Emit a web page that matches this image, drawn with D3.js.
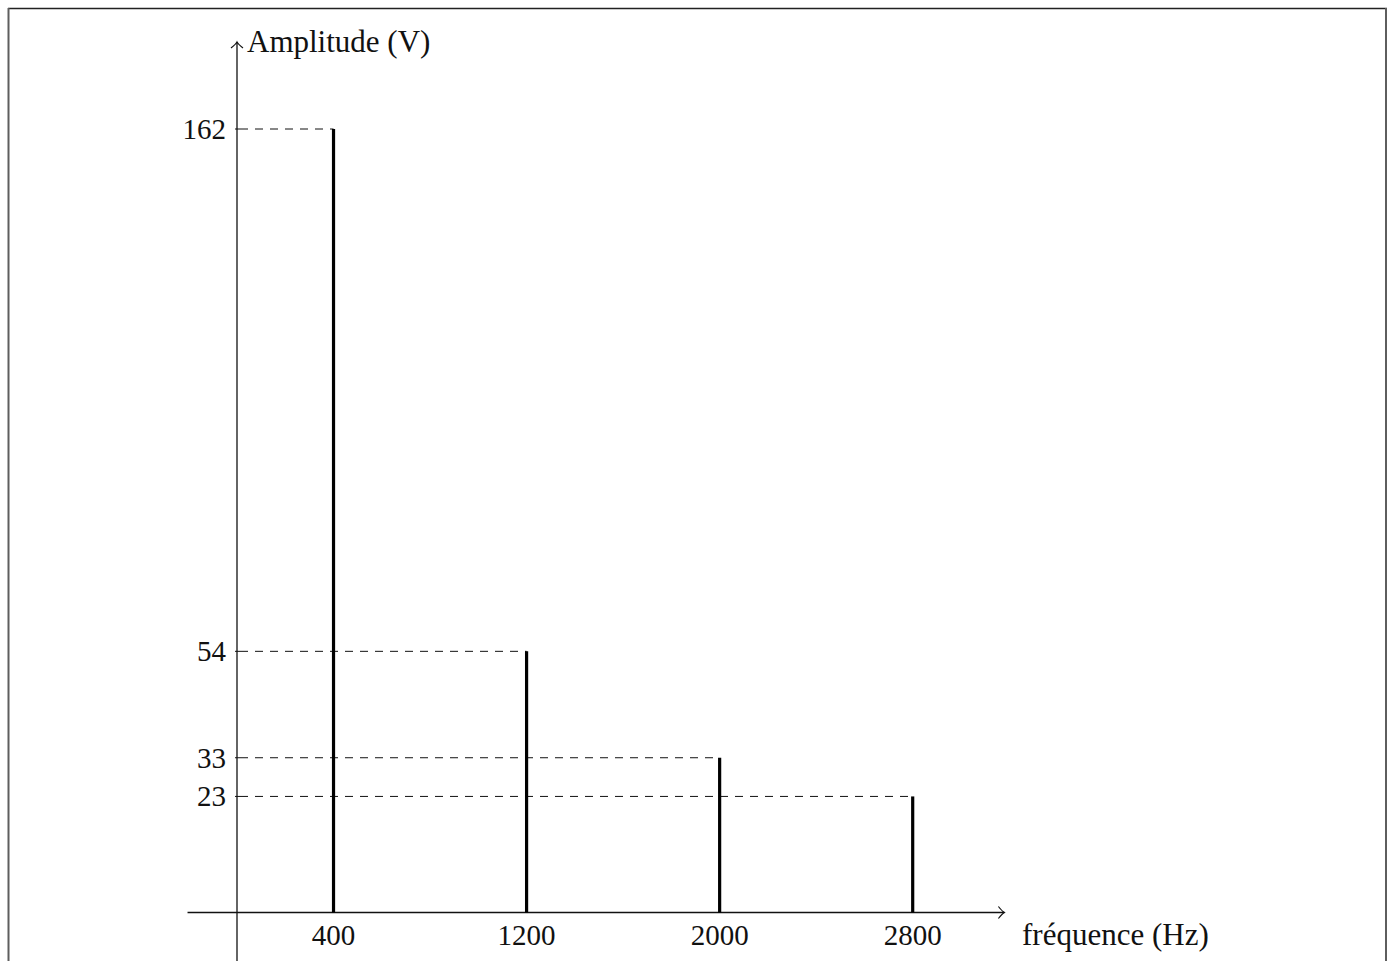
<!DOCTYPE html>
<html>
<head>
<meta charset="utf-8">
<script src="https://cdn.jsdelivr.net/npm/d3@7"></script>
<style>
  html, body { margin: 0; padding: 0; background: #fff; }
  text { font-family: "Liberation Serif", "DejaVu Serif", serif; fill: #111; }
</style>
</head>
<body>
<div id="chart"></div>
<script>
// spectre d'amplitude
const frequencies = [400, 1200, 2000, 2800];
const amplitudes = [162, 54, 32, 24];
const amplitudeLabels = ["162", "54", "33", "23"];
const xLabel = "fréquence (Hz)";
const yLabel = "Amplitude (V)";

const width = 1391, height = 961;

const svg = d3.select("#chart")
  .append("svg")
  .attr("width", width)
  .attr("height", height);

// page frame
svg.append("line").attr("x1", 8).attr("x2", 1387).attr("y1", 8.5).attr("y2", 8.5)
  .attr("stroke", "#222").attr("stroke-width", 1.3);
svg.append("line").attr("x1", 8.5).attr("x2", 8.5).attr("y1", 8).attr("y2", height)
  .attr("stroke", "#5e5e5e").attr("stroke-width", 2);
svg.append("line").attr("x1", 1386).attr("x2", 1386).attr("y1", 8).attr("y2", height)
  .attr("stroke", "#5e5e5e").attr("stroke-width", 2);

// scales
const x = d3.scaleLinear().domain([0, 2800]).range([237, 912.7]);
const y = d3.scaleLinear().domain([0, 162]).range([912.5, 129]);

const x0 = x(0), y0 = y(0);
const xEnd = x(3180), yTop = y(180);

// axes
svg.append("line")
  .attr("x1", x(-205)).attr("x2", xEnd)
  .attr("y1", y0).attr("y2", y0)
  .attr("stroke", "#111").attr("stroke-width", 1.3);
svg.append("line")
  .attr("x1", x0).attr("x2", x0)
  .attr("y1", y(-12)).attr("y2", yTop)
  .attr("stroke", "#111").attr("stroke-width", 1.3);

// arrow heads
svg.append("path")
  .attr("d", `M${xEnd - 6},${y0 - 6} Q${xEnd - 2},${y0 - 1} ${xEnd},${y0} Q${xEnd - 2},${y0 + 1} ${xEnd - 6},${y0 + 6}`)
  .attr("fill", "none").attr("stroke", "#111").attr("stroke-width", 1.2);
svg.append("path")
  .attr("d", `M${x0 - 6},${yTop + 6} Q${x0 - 1},${yTop + 2} ${x0},${yTop} Q${x0 + 1},${yTop + 2} ${x0 + 6},${yTop + 6}`)
  .attr("fill", "none").attr("stroke", "#111").attr("stroke-width", 1.2);

const data = frequencies.map((f, i) => ({ f, a: amplitudes[i], label: amplitudeLabels[i] }));

// dashed guides
svg.selectAll(".guide")
  .data(data)
  .enter()
  .append("line")
  .attr("class", "guide")
  .attr("x1", x0 + 3).attr("x2", d => x(d.f))
  .attr("y1", d => y(d.a)).attr("y2", d => y(d.a))
  .attr("stroke", "#111").attr("stroke-width", 1)
  .attr("stroke-dasharray", "8,7");

// small ticks on the y axis
svg.selectAll(".ytick")
  .data(data)
  .enter()
  .append("line")
  .attr("class", "ytick")
  .attr("x1", x0 - 2).attr("x2", x0 + 3)
  .attr("y1", d => y(d.a)).attr("y2", d => y(d.a))
  .attr("stroke", "#111").attr("stroke-width", 1);

// spectral lines
svg.selectAll(".bar")
  .data(data)
  .enter()
  .append("line")
  .attr("class", "bar")
  .attr("x1", d => x(d.f)).attr("x2", d => x(d.f))
  .attr("y1", y0).attr("y2", d => y(d.a))
  .attr("stroke", "#000").attr("stroke-width", 3.2);

// y labels
svg.selectAll(".ylabel")
  .data(data)
  .enter()
  .append("text")
  .attr("class", "ylabel")
  .attr("x", x0 - 11)
  .attr("y", d => y(d.a))
  .attr("dy", "0.34em")
  .attr("text-anchor", "end")
  .style("font-size", "29px")
  .text(d => d.label);

// x labels
svg.selectAll(".xlabel")
  .data(data)
  .enter()
  .append("text")
  .attr("class", "xlabel")
  .attr("x", d => x(d.f))
  .attr("y", 945)
  .attr("text-anchor", "middle")
  .style("font-size", "29px")
  .text(d => d.f);

// axis titles
svg.append("text")
  .attr("x", 1022).attr("y", 945)
  .style("font-size", "31px")
  .text(xLabel);

svg.append("text")
  .attr("x", x0 + 10).attr("y", 52)
  .style("font-size", "31px")
  .text(yLabel);
</script>
</body>
</html>
